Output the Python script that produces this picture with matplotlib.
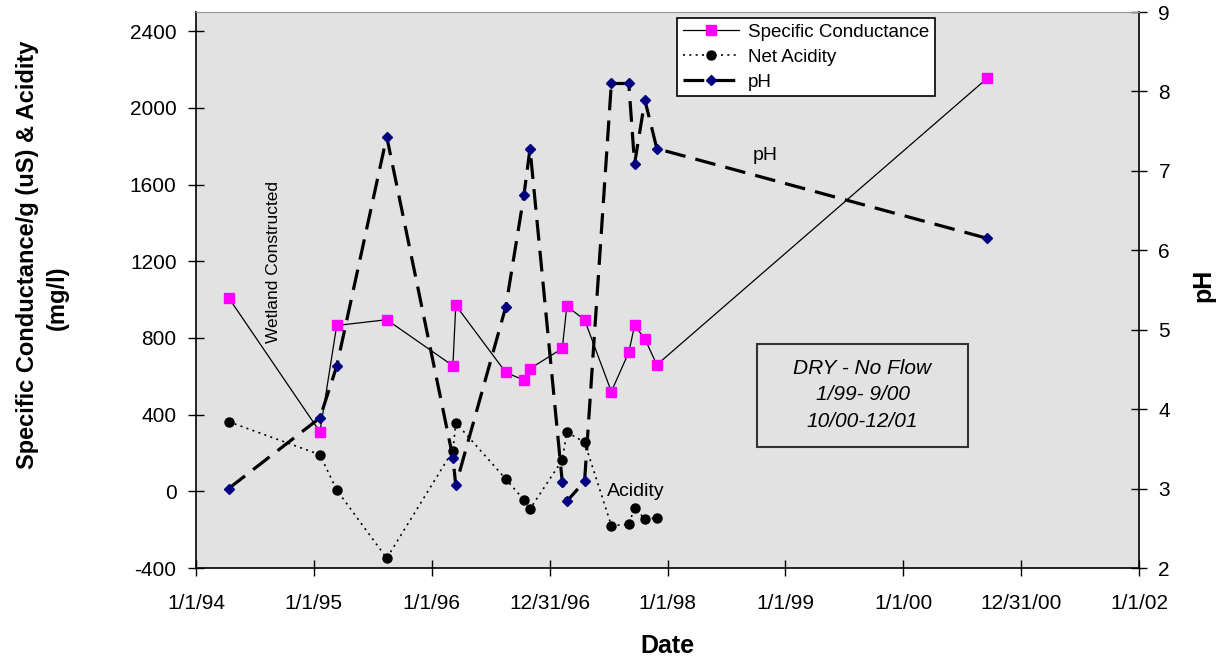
import numpy as np
import matplotlib
matplotlib.use("Agg")
import matplotlib.pyplot as plt
import matplotlib.dates as mdates
from matplotlib.patches import Rectangle

plt.rcParams['font.family'] = ['Liberation Sans', 'DejaVu Sans']
plt.rcParams['axes.unicode_minus'] = False

# sampling dates, shared by all three series
dates = np.array([
    '1994-04-12', '1995-01-20', '1995-03-13', '1995-08-15', '1996-03-07',
    '1996-03-16', '1996-08-18', '1996-10-13', '1996-11-01', '1997-02-09',
    '1997-02-23', '1997-04-19', '1997-07-11', '1997-09-03', '1997-09-21',
    '1997-10-23', '1997-11-29', '2000-09-18'], dtype='datetime64[D]')

spec_cond = [1010, 310, 865, 895, 655, 970, 620, 580, 640, 745,
             965, 895, 520, 725, 865, 795, 660, 2155]
net_acidity = [363, 191, 7, -349, 212, 358, 64, -45, -92, 163,
               309, 256, -179, -172, -86, -144, -139, np.nan]
ph = [3.00, 3.89, 4.54, 7.43, 3.39, 3.04, 5.29, 6.69, 7.28, 3.08,
      2.84, 3.09, 8.10, 8.10, 7.09, 7.89, 7.28, 6.15]

x_tick_labels = ['1/1/94', '1/1/95', '1/1/96', '12/31/96', '1/1/98',
                 '1/1/99', '1/1/00', '12/31/00', '1/1/02']
left_ticks = [-400, 0, 400, 800, 1200, 1600, 2000, 2400]
right_ticks = [2, 3, 4, 5, 6, 7, 8, 9]

x = mdates.date2num(dates)
x0 = mdates.date2num(np.datetime64('1994-01-01'))
x_ticks = x0 + 365.25 * np.arange(len(x_tick_labels))

fig = plt.figure(figsize=(12.2, 6.58), dpi=100)
ax = fig.add_axes([196 / 1220, 1 - 568 / 658, 943 / 1220, 556 / 658])
ax.set_facecolor('#e2e2e2')
ax2 = ax.twinx()

l1, = ax.plot(x, spec_cond, color='black', lw=0.9, marker='s', ms=7,
              mfc='#ff00ff', mec='#ff00ff', label='Specific Conductance')
l2, = ax.plot(x, net_acidity, color='black', lw=1.2, ls=(0, (1.2, 2.6)),
              marker='o', ms=6.5, mfc='black', mec='black', label='Net Acidity')
l3, = ax2.plot(x, ph, color='black', lw=2.3, ls=(0, (6.5, 3.2)), marker='D',
               ms=5.5, mfc='#000080', mec='#000080', label='pH')

ax.set_xlim(x_ticks[0], x_ticks[-1])
ax.set_ylim(-400, 2500)
ax2.set_ylim(2, 9)

ax.set_xticks(x_ticks)
ax.set_xticklabels(x_tick_labels)
ax.set_yticks(left_ticks)
ax2.set_yticks(right_ticks)

for a in (ax, ax2):
    a.tick_params(direction='inout', length=12, width=1, labelsize=15,
                  colors='black', pad=8)
ax.tick_params(axis='x', pad=13)

for s in ('left', 'bottom'):
    ax.spines[s].set_linewidth(1.2)
ax2.spines['right'].set_linewidth(1.2)
ax.spines['top'].set_color('#999999')
ax2.spines['top'].set_color('#999999')
ax.spines['right'].set_visible(False)
ax2.spines['left'].set_visible(False)
ax2.spines['bottom'].set_visible(False)

ax.set_xlabel('Date', fontsize=18, fontweight='bold', labelpad=15)

fig.text(28 / 1220, 1 - 255 / 658, 'Specific Conductance/g (uS) & Acidity',
         rotation=90, ha='center', va='center', fontsize=17, fontweight='bold')
fig.text(57 / 1220, 1 - 298 / 658, '(mg/l)', rotation=90, ha='center',
         va='center', fontsize=17, fontweight='bold')
fig.text(1203 / 1220, 1 - 285 / 658, 'pH', rotation=90, ha='center',
         va='center', fontsize=18, fontweight='bold')

# annotations inside the plot
ax.text(mdates.date2num(np.datetime64('1994-08-30')), 1196,
        'Wetland Constructed', rotation=90, ha='center', va='center',
        fontsize=12.5)
ax.text(mdates.date2num(np.datetime64('1998-10-30')), 1754, 'pH',
        ha='center', va='center', fontsize=14)
ax.text(mdates.date2num(np.datetime64('1997-09-25')), 0, 'Acidity',
        ha='center', va='center', fontsize=14)

ax2.add_patch(Rectangle((0.595, 0.2176), 0.2237, 0.1853, transform=ax.transAxes,
                        facecolor='none', edgecolor='#333333', lw=1.5))
ax2.text(0.7068, 0.312, 'DRY - No Flow\n1/99- 9/00\n10/00-12/01',
         transform=ax.transAxes, ha='center', va='center', fontsize=15,
         style='italic', linespacing=1.5)

leg = ax2.legend(handles=[l1, l2, l3], loc='upper left',
                 bbox_to_anchor=(0.510, 0.989), fontsize=13.5, frameon=True,
                 fancybox=False, framealpha=1, edgecolor='black',
                 handlelength=3.0, borderpad=0.3, labelspacing=0.42,
                 handletextpad=0.5, borderaxespad=0)
leg.get_frame().set_linewidth(1.2)

fig.savefig('out.png', dpi=100)
